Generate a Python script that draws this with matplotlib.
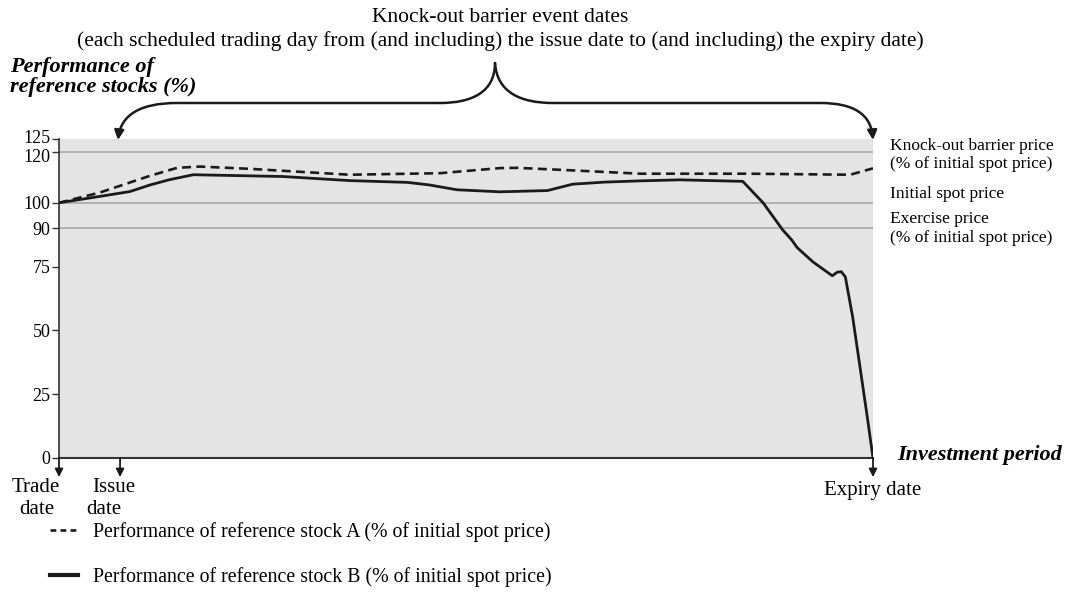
import matplotlib.pyplot as plt
import matplotlib.transforms as mtransforms
from matplotlib.path import Path
from matplotlib.patches import FancyArrowPatch
import numpy as np

plt.rcParams['font.family'] = ['Liberation Serif', 'DejaVu Serif']

# investment period, 0 = trade date, 100 = expiry date
x_a = [0, 5.0, 11.2, 14.5, 17.3, 23.5, 35.7, 46.8, 54.2, 56.3, 63.1, 71.4, 84.9, 97.2, 100]
stock_a = [100, 104.0, 110.6, 113.7, 114.2, 113.3, 111.0, 111.6, 113.6, 113.7, 112.7, 111.4, 111.4, 111.0, 113.5]

x_b = [0, 5.0, 8.7, 11.2, 13.5, 16.5, 27.5, 35.7, 42.8, 45.5, 48.9, 54.2, 60.0, 61.5, 63.1,
       67.0, 71.4, 76.3, 84.0, 86.5, 88.9, 90.0, 90.7, 92.6, 95.0, 95.6, 96.1, 96.6,
       97.5, 98.4, 99.3, 100]
stock_b = [100, 102.5, 104.4, 107.0, 109.0, 111.0, 110.3, 108.7, 108.0, 107.0, 105.1, 104.3, 104.8,
           106.0, 107.3, 108.1, 108.6, 109.0, 108.4, 100.0, 89.4, 85.5, 82.4, 76.9, 71.4, 72.8,
           73.0, 71.0, 55.3, 35.7, 16.0, 0]

yticks = [0, 25, 50, 75, 90, 100, 120, 125]
ref_levels = [120, 100, 90]
issue_date = 7.5

W, H = 1071, 614
fig = plt.figure(figsize=(W / 100, H / 100), dpi=100)
ax = fig.add_axes([59 / W, 1 - 458 / H, 814 / W, 319 / H])
ax.set_facecolor('#e4e4e4')

for lv in ref_levels:
    ax.axhline(lv, color='#a8a8a8', lw=1.2, zorder=1)

ax.plot(x_a, stock_a, color='#1a1a1a', lw=1.9, dashes=(3.4, 2.0), zorder=3,
        label='Performance of reference stock A (% of initial spot price)')
ax.plot(x_b, stock_b, color='#1a1a1a', lw=2.0, zorder=3,
        label='Performance of reference stock B (% of initial spot price)')

ax.set_xlim(0, 100)
ax.set_ylim(0, 125)
ax.set_yticks(yticks)
ax.set_xticks([])
ax.tick_params(axis='y', length=5, width=1, labelsize=13, pad=1, color='#333333')
for s in ['top', 'right']:
    ax.spines[s].set_visible(False)
ax.spines['left'].set_color('#333333')
ax.spines['bottom'].set_color('#333333')
ax.spines['left'].set_linewidth(1.2)
ax.spines['bottom'].set_linewidth(1.5)

# 120 and 125 labels sit very close; nudge them apart a little
ticks = ax.yaxis.get_major_ticks()
for t, dy in [(ticks[-2], -2.5 / 72), (ticks[-1], 1.5 / 72)]:
    lab = t.label1
    lab.set_transform(lab.get_transform() + mtransforms.ScaledTranslation(0, dy, fig.dpi_scale_trans))

# right-hand level labels
tr = ax.get_yaxis_transform()
fs_r = 12.5
xr = 1.0208
ax.text(xr, 122.2, 'Knock-out barrier price', transform=tr, fontsize=fs_r, va='center')
ax.text(xr, 115.2, '(% of initial spot price)', transform=tr, fontsize=fs_r, va='center')
ax.text(xr, 103.5, 'Initial spot price', transform=tr, fontsize=fs_r, va='center')
ax.text(xr, 93.5, 'Exercise price', transform=tr, fontsize=fs_r, va='center')
ax.text(xr, 86.2, '(% of initial spot price)', transform=tr, fontsize=fs_r, va='center')

ax.text(1.03, 1, 'Investment period', transform=tr, fontsize=16, fontweight='bold',
        fontstyle='italic', va='center')
fig.text(10 / W, 1 - 77 / H, 'Performance of\nreference stocks (%)', fontsize=16,
         fontweight='bold', fontstyle='italic', va='center', linespacing=0.95)

# date arrows under the x axis
for xd in [0, issue_date, 100]:
    ax.annotate('', xy=(xd, -7.5), xytext=(xd, 0), xycoords='data', annotation_clip=False,
                arrowprops=dict(arrowstyle='-|>', color='#1a1a1a', lw=1.3,
                                mutation_scale=12, shrinkA=0, shrinkB=0))


def fp(px, py):
    return (px / W, 1 - py / H)


fs_d = 15
fig.text(*fp(36, 488), 'Trade', fontsize=fs_d, ha='center', va='center')
fig.text(*fp(37, 510), 'date', fontsize=fs_d, ha='center', va='center')
fig.text(*fp(114, 488), 'Issue', fontsize=fs_d, ha='center', va='center')
fig.text(*fp(104, 510), 'date', fontsize=fs_d, ha='center', va='center')
fig.text(*fp(873, 491), 'Expiry date', fontsize=fs_d, ha='center', va='center')

# top annotation with brace
fig.text(*fp(500, 17), 'Knock-out barrier event dates', fontsize=15.5, ha='center', va='center')
fig.text(*fp(500, 41),
         '(each scheduled trading day from (and including) the issue date to (and including) the expiry date)',
         fontsize=15.5, ha='center', va='center')

left = Path([fp(495, 63), fp(495, 92), fp(472, 103), fp(440, 103), fp(177, 103),
             fp(140, 103), fp(121, 115), fp(118, 140)],
            [Path.MOVETO, Path.CURVE4, Path.CURVE4, Path.CURVE4, Path.LINETO,
             Path.CURVE4, Path.CURVE4, Path.CURVE4])
right = Path([fp(495, 63), fp(497, 92), fp(520, 103), fp(553, 103), fp(820, 103),
              fp(855, 103), fp(871, 115), fp(873, 140)],
             [Path.MOVETO, Path.CURVE4, Path.CURVE4, Path.CURVE4, Path.LINETO,
              Path.CURVE4, Path.CURVE4, Path.CURVE4])
for p in [left, right]:
    fig.add_artist(FancyArrowPatch(path=p, transform=fig.transFigure, arrowstyle='-|>',
                                   mutation_scale=14, color='#1a1a1a', lw=1.8))

leg = ax.legend(loc='upper left', bbox_to_anchor=fp(50, 522),
                bbox_transform=fig.transFigure, frameon=False, fontsize=14.3,
                handlelength=1.4, labelspacing=1.25, handletextpad=0.75,
                borderaxespad=0, borderpad=0)
leg.get_lines()[0].set_dashes((2.2, 1.6))
leg.get_lines()[1].set_linewidth(3)

fig.savefig('out.png', dpi=100)
